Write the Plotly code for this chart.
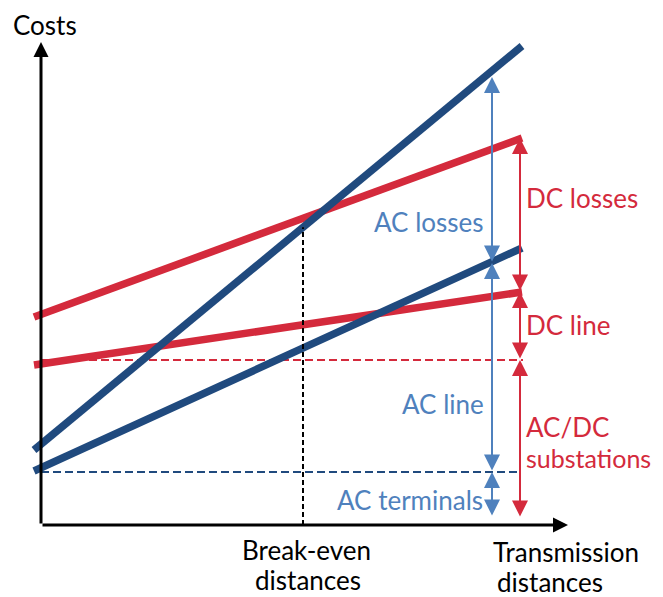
import numpy as np
import plotly.graph_objects as go

# ---------------- data (conceptual units) ----------------
distance_span = [-1.4, 96.2]          # start / end of the cost lines
dc_total_cost = [41.6, 77.4]          # DC: substations + line + losses
dc_line_cost = [32.0, 46.6]           # DC: substations + line
ac_total_cost = [15.0, 95.8]          # AC: terminals + line + losses
ac_line_cost = [10.8, 55.4]           # AC: terminals + line
dc_substation_level = 33.0
ac_terminal_level = 10.6
break_even_distance = 52.4

ac_bracket_distance = 90.2
ac_bracket_levels = [1.6, 10.6, 52.4, 89.6]
ac_bracket_labels = ["AC terminals", "AC line", "AC losses"]
dc_bracket_distance = 95.8
dc_bracket_levels = [1.4, 33.0, 46.6, 77.4]
dc_bracket_labels = ["AC/DC", "substations", "DC line", "DC losses"]

axis_x_end = 105.4
axis_y_end = 96.6

# ---------------- styles ----------------
RED = "#D42A3C"
NAVY = "#204A7E"
LBLUE = "#4F81BD"
FONT = "Lato"
FS = 26

fig = go.Figure()

# dashed reference levels
fig.add_trace(go.Scatter(x=[0, dc_bracket_distance + 0.6], y=[dc_substation_level] * 2, mode="lines",
                         line=dict(color=RED, width=2, dash="8px,4px"), hoverinfo="skip"))
fig.add_trace(go.Scatter(x=[0, dc_bracket_distance], y=[ac_terminal_level] * 2, mode="lines",
                         line=dict(color=NAVY, width=2, dash="8px,4px"), hoverinfo="skip"))

# cost lines
for ys, col in [(dc_total_cost, RED), (dc_line_cost, RED), (ac_total_cost, NAVY), (ac_line_cost, NAVY)]:
    fig.add_trace(go.Scatter(x=distance_span, y=ys, mode="lines",
                             line=dict(color=col, width=7.5), hoverinfo="skip"))

# break-even vertical
be_top = float(np.interp(break_even_distance, distance_span, ac_total_cost))
fig.add_trace(go.Scatter(x=[break_even_distance] * 2, y=[0, be_top], mode="lines",
                         line=dict(color="black", width=2, dash="5px,3px"), hoverinfo="skip"))

annotations = []

# axes with arrows
annotations.append(dict(x=0, y=axis_y_end, ax=0, ay=0, xref="x", yref="y", axref="x", ayref="y",
                        showarrow=True, arrowhead=2, arrowsize=1, arrowwidth=3, arrowcolor="black", text=""))
annotations.append(dict(x=axis_x_end, y=0, ax=0, ay=0, xref="x", yref="y", axref="x", ayref="y",
                        showarrow=True, arrowhead=2, arrowsize=1, arrowwidth=3, arrowcolor="black", text=""))

# bracket arrows
def add_brackets(xpos, levels, color):
    for lo, hi in zip(levels[:-1], levels[1:]):
        annotations.append(dict(x=xpos, y=hi, ax=xpos, ay=lo, xref="x", yref="y", axref="x", ayref="y",
                                showarrow=True, arrowhead=2, arrowsize=1.6, arrowwidth=2,
                                startarrowhead=2, startarrowsize=1.6, arrowside="end+start",
                                arrowcolor=color, text=""))

add_brackets(ac_bracket_distance, ac_bracket_levels, LBLUE)
add_brackets(dc_bracket_distance, dc_bracket_levels, RED)

def label(text, x, y, color="black", xanchor="center", size=FS):
    annotations.append(dict(x=x, y=y, xref="x", yref="y", text=text, showarrow=False,
                            xanchor=xanchor, yanchor="middle",
                            font=dict(family=FONT, size=size, color=color)))

label("Costs", 0.8, 100.0)
label(ac_bracket_labels[2], 89.0, 60.6, LBLUE, "right")
label(ac_bracket_labels[1], 89.0, 24.2, LBLUE, "right")
label(ac_bracket_labels[0], 88.8, 5.0, LBLUE, "right")
label(dc_bracket_labels[3], 96.6, 65.4, RED, "left")
label(dc_bracket_labels[2], 96.6, 40.0, RED, "left")
label(dc_bracket_labels[0], 96.6, 19.6, RED, "left")
label(dc_bracket_labels[1], 96.6, 13.4, RED, "left", FS - 1)
label("Break-even", 53.0, -5.0)
label("distances", 53.4, -11.0)
label("Transmission", 90.0, -5.4, xanchor="left")
label("distances", 90.8, -11.4, xanchor="left")

# the page body has an 8px margin, so the figure is 8px smaller and ranges shifted
fig.update_layout(
    width=655, height=589,
    margin=dict(l=0, r=0, t=0, b=0),
    paper_bgcolor="white", plot_bgcolor="white",
    showlegend=False,
    annotations=annotations,
    xaxis=dict(range=[-6.6, 124.4], visible=False, fixedrange=True),
    yaxis=dict(range=[-14.4, 103.4], visible=False, fixedrange=True),
)

fig.write_html("out.html")
